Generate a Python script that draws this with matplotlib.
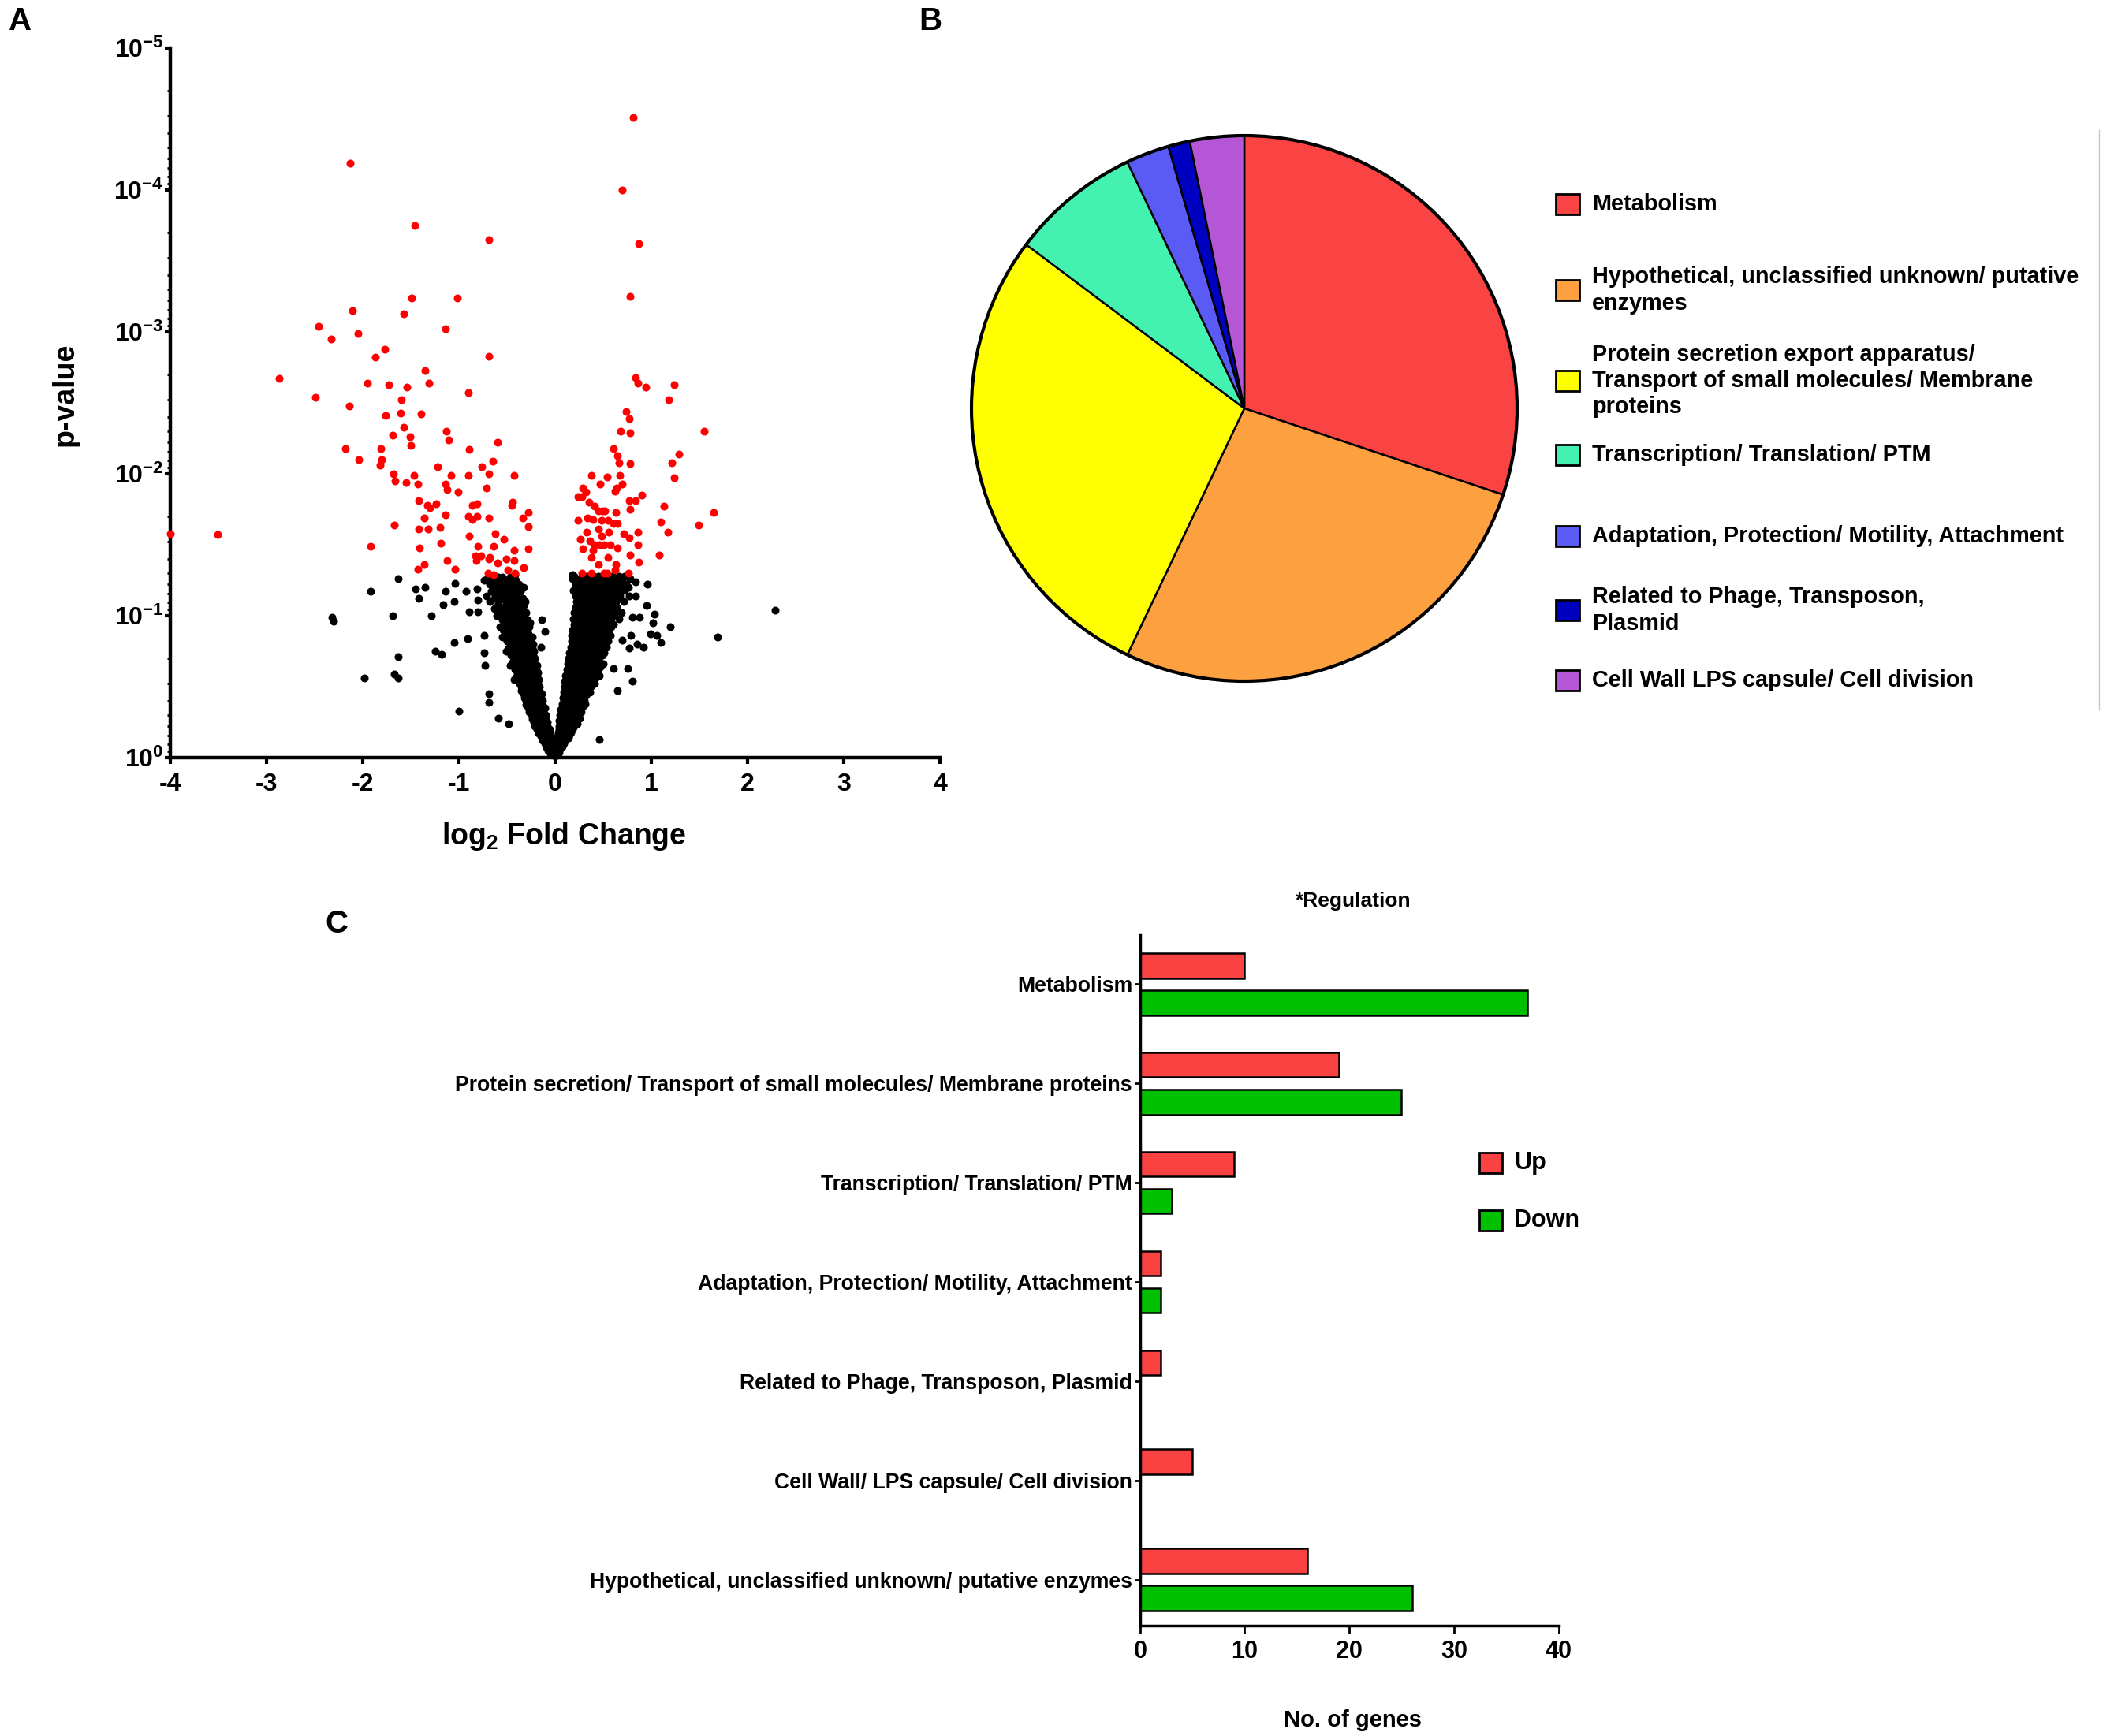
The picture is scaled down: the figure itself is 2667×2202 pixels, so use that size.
import numpy as np
import matplotlib
matplotlib.use('Agg')
import matplotlib.pyplot as plt
from matplotlib.patches import Rectangle, Circle
from matplotlib.lines import Line2D
from matplotlib.ticker import LogLocator, NullFormatter

plt.rcParams['font.family'] = ['Liberation Sans', 'DejaVu Sans']
plt.rcParams['font.weight'] = 'bold'
plt.rcParams['axes.labelweight'] = 'bold'
plt.rcParams['axes.unicode_minus'] = False
plt.rcParams['mathtext.fontset'] = 'custom'
plt.rcParams['mathtext.rm'] = 'Liberation Sans:bold'
plt.rcParams['mathtext.it'] = 'Liberation Sans:bold'
plt.rcParams['mathtext.bf'] = 'Liberation Sans:bold'

# ---------------- Panel A data (volcano) ----------------
red_log2fc = [
    -4.00, -3.51, -2.13, -1.46, -0.69, -1.02, -1.49, -2.11, -1.57, -2.46,
    -1.14, -2.05, -2.33, -1.77, -1.87, -0.69, -2.87, -1.35, -1.95, -1.73,
    -1.31, -1.54, -0.90, -2.49, -1.60, -2.14, -1.61, -1.76, -1.39, -1.57,
    -1.13, -1.69, -1.51, -1.11, -0.60, -1.50, -2.18, -1.81, -0.89, -2.04,
    -1.80, -0.65, -1.82, -1.22, -0.76, -1.68, -1.47, -1.08, -0.90, -0.69,
    -0.43, -1.66, -1.55, -1.43, -1.14, -1.12, -1.01, -0.71, -1.42, -1.33,
    -1.24, -1.30, -0.86, -0.81, -0.44, -0.45, -1.36, -1.14, -0.90, -0.86,
    -0.81, -0.69, -0.34, -0.28, -1.67, -1.42, -1.32, -1.20, -0.28, -0.62,
    -0.89, -0.53, -1.92, -1.41, -1.19, -0.80, -0.64, -0.43, -0.28, -0.83,
    -0.77, -0.82, -0.69, -0.68, -0.51, -0.43, -1.12, -0.60, -1.36, -1.43,
    -1.04, -0.49, -0.33, -0.70, -0.64, -0.42,
    0.81, 0.70, 0.87, 0.78, 0.84, 0.86, 0.94, 1.24, 1.18, 0.74,
    0.77, 0.68, 0.78, 1.55, 0.61, 1.29, 0.65, 0.66, 0.78, 1.21,
    0.38, 0.54, 0.67, 1.24, 0.47, 0.29, 0.70, 0.32, 0.62, 0.64,
    0.24, 0.28, 0.90, 0.77, 0.84, 0.35, 0.41, 1.13, 0.78, 0.45,
    0.49, 0.52, 1.65, 0.63, 0.34, 0.39, 0.24, 0.55, 0.48, 0.61,
    0.65, 1.10, 1.49, 0.45, 0.33, 0.56, 0.71, 0.86, 1.17, 0.26,
    0.36, 0.48, 0.77, 0.41, 0.46, 0.51, 0.57, 0.65, 0.86, 0.29,
    0.39, 0.78, 1.08, 0.38, 0.55, 0.87, 0.45, 0.63, 0.28, 0.38,
    0.51, 0.54, 0.76, 0.62,
]
red_log10p = [
    -1.58, -1.57, -4.19, -3.75, -3.65, -3.24, -3.24, -3.15, -3.13, -3.04,
    -3.02, -2.99, -2.95, -2.88, -2.82, -2.83, -2.67, -2.73, -2.64, -2.63,
    -2.64, -2.61, -2.57, -2.54, -2.52, -2.48, -2.43, -2.41, -2.42, -2.33,
    -2.30, -2.27, -2.26, -2.24, -2.22, -2.20, -2.18, -2.18, -2.17, -2.10,
    -2.10, -2.09, -2.06, -2.05, -2.05, -2.00, -1.99, -1.99, -1.99, -2.00,
    -1.99, -1.95, -1.94, -1.93, -1.93, -1.89, -1.87, -1.90, -1.81, -1.78,
    -1.79, -1.76, -1.78, -1.79, -1.80, -1.78, -1.69, -1.71, -1.70, -1.68,
    -1.70, -1.69, -1.69, -1.73, -1.64, -1.61, -1.61, -1.62, -1.63, -1.58,
    -1.56, -1.54, -1.49, -1.48, -1.51, -1.49, -1.49, -1.46, -1.47, -1.42,
    -1.42, -1.39, -1.40, -1.41, -1.40, -1.39, -1.39, -1.37, -1.36, -1.33,
    -1.33, -1.32, -1.34, -1.30, -1.29, -1.30,
    -4.51, -4.00, -3.62, -3.25, -2.68, -2.64, -2.61, -2.63, -2.52, -2.44,
    -2.39, -2.30, -2.29, -2.30, -2.18, -2.14, -2.13, -2.08, -2.07, -2.08,
    -1.99, -1.98, -1.99, -1.97, -1.93, -1.90, -1.93, -1.87, -1.88, -1.90,
    -1.84, -1.84, -1.85, -1.81, -1.81, -1.80, -1.77, -1.77, -1.75, -1.74,
    -1.74, -1.74, -1.73, -1.73, -1.69, -1.68, -1.67, -1.67, -1.67, -1.65,
    -1.65, -1.66, -1.64, -1.61, -1.59, -1.59, -1.58, -1.59, -1.59, -1.54,
    -1.53, -1.56, -1.55, -1.50, -1.50, -1.50, -1.50, -1.48, -1.50, -1.47,
    -1.46, -1.43, -1.43, -1.41, -1.41, -1.38, -1.36, -1.36, -1.30, -1.30,
    -1.30, -1.30, -1.30, -1.32,
]

black_out_log2fc = [
    -1.63, -1.92, -2.32, -2.30, -1.69, -1.63, -1.67, -1.63, -1.98, -1.45,
    -1.42, -1.35, -1.29, -1.25, -1.18, -1.14, -1.16, -1.04, -1.05, -1.05,
    -0.93, -0.89, -0.91, -1.00, -0.81, -0.80, -0.80, -0.74, -0.74, -0.73,
    -0.69, -0.69, -0.59, -0.48, -0.71, -0.64, -0.62, -0.59, -0.57, -0.51,
    -0.42, -0.33, -0.14, -0.11, -0.15,
    2.29, 1.69, 1.20, 1.10, 1.06, 0.99, 1.03, 1.02, 0.95, 0.92,
    0.85, 0.77, 0.88, 0.80, 0.79, 0.70, 0.96, 0.84, 0.84, 0.75,
    0.80, 0.65, 0.61, 0.46, 0.18, 0.19,
]
black_out_log10p = [
    -1.26, -1.17, -0.99, -0.96, -1.00, -0.71, -0.59, -0.56, -0.56, -1.19,
    -1.12, -1.20, -1.00, -0.75, -0.73, -1.17, -1.08, -1.23, -1.10, -0.81,
    -1.17, -1.03, -0.84, -0.33, -1.19, -1.11, -1.03, -0.86, -0.74, -0.65,
    -0.45, -0.39, -0.28, -0.24, -1.14, -1.24, -1.15, -1.27, -1.19, -1.19,
    -1.29, -1.20, -0.97, -0.89, -0.78,
    -1.04, -0.85, -0.92, -0.81, -0.86, -0.87, -1.01, -0.95, -1.07, -0.78,
    -0.80, -0.77, -0.99, -0.99, -0.86, -0.83, -1.22, -1.14, -1.24, -0.63,
    -0.54, -0.47, -0.63, -0.13, -1.29, -1.18,
]

# dense non-significant cloud, read row by row (log10 p level -> log2FC values)
black_left_levels = [-1.27, -1.25, -1.22, -1.20, -1.17, -1.15, -1.12, -1.10, -1.07, -1.05,
                     -1.02, -1.00, -0.97, -0.95, -0.92, -0.90, -0.87, -0.85, -0.82, -0.80,
                     -0.77, -0.75, -0.72, -0.70, -0.67, -0.65, -0.62, -0.60, -0.57, -0.55,
                     -0.52, -0.50, -0.47, -0.45, -0.42, -0.40, -0.37, -0.35, -0.32, -0.30,
                     -0.27, -0.25, -0.22, -0.20, -0.17, -0.15, -0.12, -0.10, -0.07, -0.05,
                     -0.03]
black_left_rows = [
    [-0.70, -0.62, -0.55, -0.47],
    [-0.74, -0.58, -0.50, -0.41],
    [-0.68, -0.60, -0.52, -0.44, -0.38],
    [-0.65, -0.56, -0.48, -0.41, -0.35],
    [-0.66, -0.58, -0.50, -0.45, -0.36],
    [-0.61, -0.54, -0.47, -0.40],
    [-0.63, -0.55, -0.48, -0.40, -0.34],
    [-0.68, -0.59, -0.51, -0.44, -0.37, -0.31],
    [-0.60, -0.52, -0.46, -0.42, -0.33],
    [-0.63, -0.55, -0.49, -0.39, -0.35],
    [-0.58, -0.50, -0.44, -0.37, -0.30],
    [-0.61, -0.53, -0.47, -0.40, -0.33],
    [-0.55, -0.48, -0.42, -0.36, -0.29],
    [-0.52, -0.45, -0.39, -0.32, -0.26],
    [-0.57, -0.47, -0.40, -0.34, -0.27],
    [-0.54, -0.50, -0.43, -0.37, -0.30],
    [-0.52, -0.45, -0.39, -0.33, -0.28],
    [-0.55, -0.48, -0.42, -0.36, -0.30, -0.24],
    [-0.50, -0.43, -0.38, -0.32, -0.26],
    [-0.47, -0.41, -0.35, -0.29, -0.23],
    [-0.48, -0.41, -0.36, -0.30, -0.24],
    [-0.51, -0.44, -0.38, -0.33, -0.27, -0.22],
    [-0.46, -0.40, -0.34, -0.29, -0.23],
    [-0.43, -0.37, -0.31, -0.26, -0.21],
    [-0.44, -0.38, -0.33, -0.27, -0.22],
    [-0.47, -0.41, -0.35, -0.30, -0.24, -0.19],
    [-0.42, -0.36, -0.31, -0.26, -0.20],
    [-0.39, -0.33, -0.28, -0.23, -0.18],
    [-0.40, -0.34, -0.29, -0.24, -0.19],
    [-0.43, -0.37, -0.31, -0.26, -0.21, -0.17],
    [-0.37, -0.32, -0.27, -0.22, -0.18],
    [-0.35, -0.29, -0.25, -0.20, -0.16],
    [-0.35, -0.30, -0.25, -0.21, -0.16],
    [-0.33, -0.27, -0.22, -0.18, -0.14],
    [-0.32, -0.28, -0.23, -0.19, -0.15],
    [-0.30, -0.25, -0.21, -0.17, -0.13],
    [-0.30, -0.26, -0.21, -0.17, -0.13],
    [-0.28, -0.23, -0.19, -0.15, -0.11],
    [-0.27, -0.23, -0.19, -0.15, -0.12],
    [-0.25, -0.21, -0.17, -0.13, -0.10],
    [-0.24, -0.20, -0.17, -0.13, -0.10],
    [-0.22, -0.18, -0.15, -0.11, -0.08],
    [-0.21, -0.17, -0.14, -0.11, -0.08],
    [-0.19, -0.15, -0.12, -0.09, -0.06],
    [-0.17, -0.14, -0.11, -0.08, -0.06],
    [-0.15, -0.12, -0.09, -0.06, -0.04],
    [-0.13, -0.10, -0.08, -0.06, -0.04],
    [-0.11, -0.08, -0.06, -0.03],
    [-0.09, -0.07, -0.05, -0.03],
    [-0.07, -0.04, -0.02],
    [-0.05, -0.03, -0.01],
]
black_right_levels = [-1.28, -1.26, -1.24, -1.22, -1.20, -1.18, -1.16, -1.14, -1.12, -1.10,
                      -1.08, -1.06, -1.04, -1.02, -1.00, -0.98, -0.96, -0.94, -0.92, -0.90,
                      -0.88, -0.86, -0.84, -0.82, -0.80, -0.78, -0.76, -0.74, -0.72, -0.70,
                      -0.68, -0.66, -0.64, -0.62, -0.60, -0.58, -0.56, -0.54, -0.52, -0.50,
                      -0.48, -0.46, -0.44, -0.42, -0.40, -0.38, -0.36, -0.34, -0.32, -0.30,
                      -0.28, -0.26, -0.24, -0.22, -0.20, -0.18, -0.16, -0.14, -0.12, -0.10,
                      -0.08, -0.06, -0.04, -0.03, -0.01]
black_right_rows = [
    [0.20, 0.28, 0.34, 0.40, 0.45, 0.50, 0.55, 0.60, 0.66, 0.72],
    [0.18, 0.25, 0.31, 0.37, 0.43, 0.48, 0.53, 0.57, 0.63, 0.69, 0.78],
    [0.22, 0.30, 0.36, 0.42, 0.47, 0.52, 0.58, 0.64, 0.70],
    [0.21, 0.27, 0.33, 0.39, 0.44, 0.50, 0.56, 0.61, 0.67, 0.74],
    [0.25, 0.32, 0.38, 0.43, 0.48, 0.54, 0.60, 0.68, 0.76],
    [0.22, 0.29, 0.35, 0.41, 0.46, 0.51, 0.57, 0.64, 0.72],
    [0.27, 0.33, 0.39, 0.44, 0.49, 0.55, 0.62],
    [0.21, 0.28, 0.34, 0.40, 0.46, 0.52, 0.59, 0.67, 0.77],
    [0.24, 0.30, 0.36, 0.41, 0.46, 0.52, 0.58, 0.66],
    [0.22, 0.27, 0.33, 0.39, 0.44, 0.49, 0.55, 0.63, 0.71],
    [0.26, 0.32, 0.37, 0.42, 0.47, 0.53, 0.61],
    [0.21, 0.29, 0.35, 0.40, 0.45, 0.50, 0.56, 0.64],
    [0.23, 0.29, 0.34, 0.39, 0.44, 0.50, 0.57],
    [0.20, 0.27, 0.32, 0.37, 0.42, 0.48, 0.54, 0.62, 0.69],
    [0.25, 0.30, 0.35, 0.40, 0.45, 0.51, 0.60],
    [0.19, 0.26, 0.31, 0.36, 0.41, 0.47, 0.53, 0.58, 0.66],
    [0.22, 0.28, 0.33, 0.38, 0.43, 0.48, 0.55],
    [0.20, 0.25, 0.31, 0.36, 0.41, 0.46, 0.52, 0.61],
    [0.24, 0.29, 0.34, 0.39, 0.44, 0.50, 0.58],
    [0.18, 0.24, 0.30, 0.35, 0.40, 0.46, 0.51, 0.56],
    [0.21, 0.27, 0.32, 0.37, 0.42, 0.47, 0.53],
    [0.17, 0.23, 0.29, 0.34, 0.39, 0.44, 0.50, 0.57],
    [0.20, 0.26, 0.31, 0.36, 0.41, 0.46, 0.52],
    [0.17, 0.22, 0.28, 0.33, 0.38, 0.43, 0.49, 0.55],
    [0.19, 0.24, 0.29, 0.34, 0.39, 0.44, 0.50],
    [0.16, 0.21, 0.26, 0.31, 0.36, 0.41, 0.46, 0.53],
    [0.18, 0.23, 0.28, 0.33, 0.38, 0.43, 0.48],
    [0.15, 0.20, 0.25, 0.30, 0.35, 0.40, 0.45, 0.51],
    [0.17, 0.22, 0.27, 0.32, 0.37, 0.42, 0.49],
    [0.14, 0.19, 0.24, 0.29, 0.34, 0.39, 0.44],
    [0.16, 0.21, 0.26, 0.31, 0.36, 0.41, 0.46],
    [0.13, 0.18, 0.23, 0.28, 0.33, 0.38, 0.43, 0.50],
    [0.15, 0.20, 0.25, 0.30, 0.35, 0.40, 0.47],
    [0.12, 0.17, 0.22, 0.27, 0.32, 0.37, 0.42],
    [0.14, 0.19, 0.24, 0.29, 0.33, 0.38, 0.44],
    [0.11, 0.16, 0.21, 0.26, 0.31, 0.35, 0.40, 0.46],
    [0.13, 0.18, 0.23, 0.27, 0.32, 0.37, 0.42],
    [0.10, 0.15, 0.20, 0.24, 0.29, 0.33, 0.38],
    [0.12, 0.17, 0.21, 0.26, 0.30, 0.35, 0.41],
    [0.10, 0.14, 0.19, 0.23, 0.27, 0.32, 0.37],
    [0.11, 0.15, 0.20, 0.24, 0.29, 0.34],
    [0.09, 0.13, 0.17, 0.22, 0.26, 0.31, 0.36],
    [0.10, 0.14, 0.19, 0.23, 0.27, 0.32],
    [0.08, 0.12, 0.16, 0.21, 0.25, 0.29],
    [0.09, 0.13, 0.17, 0.21, 0.26, 0.30],
    [0.07, 0.11, 0.15, 0.19, 0.23, 0.27, 0.31],
    [0.08, 0.12, 0.16, 0.20, 0.24, 0.29],
    [0.06, 0.10, 0.14, 0.18, 0.22, 0.25],
    [0.07, 0.11, 0.15, 0.19, 0.23, 0.27],
    [0.05, 0.09, 0.13, 0.16, 0.20, 0.24],
    [0.06, 0.10, 0.14, 0.17, 0.21, 0.25],
    [0.04, 0.08, 0.11, 0.15, 0.18, 0.22],
    [0.05, 0.09, 0.12, 0.16, 0.19, 0.23],
    [0.04, 0.07, 0.10, 0.13, 0.17, 0.20],
    [0.04, 0.08, 0.11, 0.14, 0.18],
    [0.03, 0.06, 0.09, 0.12, 0.16],
    [0.03, 0.06, 0.09, 0.12, 0.15],
    [0.02, 0.05, 0.08, 0.11, 0.14],
    [0.02, 0.05, 0.08, 0.11],
    [0.01, 0.04, 0.06, 0.09],
    [0.01, 0.04, 0.07],
    [0.01, 0.03, 0.05],
    [0.00, 0.02, 0.04],
    [-0.01, 0.01, 0.03],
    [0.00],
]

volcano_xticks = [-4, -3, -2, -1, 0, 1, 2, 3, 4]
volcano_ydecades = [0, -1, -2, -3, -4, -5]

# ---------------- Panel B data (pie) ----------------
pie_labels = [
    "Metabolism",
    "Hypothetical, unclassified unknown/ putative\nenzymes",
    "Protein secretion export apparatus/\nTransport of small molecules/ Membrane\nproteins",
    "Transcription/ Translation/ PTM",
    "Adaptation, Protection/ Motility, Attachment",
    "Related to Phage, Transposon,\nPlasmid",
    "Cell Wall LPS capsule/ Cell division",
]
pie_values = [47, 42, 44, 12, 4, 2, 5]
pie_colors = ['#FA4343', '#FCA040', '#FFFF00', '#43F2B0', '#5A5AF5', '#0000C0', '#B456D6']

# ---------------- Panel C data (bars) ----------------
bar_categories = [
    "Metabolism",
    "Protein secretion/ Transport of small molecules/ Membrane proteins",
    "Transcription/ Translation/ PTM",
    "Adaptation, Protection/ Motility, Attachment",
    "Related to Phage, Transposon, Plasmid",
    "Cell Wall/ LPS capsule/ Cell division",
    "Hypothetical, unclassified unknown/ putative enzymes",
]
up_counts = [10, 19, 9, 2, 2, 5, 16]
down_counts = [37, 25, 3, 2, 0, 0, 26]
bar_xticks = [0, 10, 20, 30, 40]
up_color = '#FA4242'
down_color = '#00C000'

# ---------------- Figure ----------------
W, H = 2667, 2202
fig = plt.figure(figsize=(W / 100, H / 100), dpi=100)


def fx(x):
    return x / W


def fy(y):
    return 1 - y / H


# ===== Panel A =====
ax1 = fig.add_axes([fx(216), fy(961), 976 / W, 900 / H])
bx = [x for row in black_left_rows for x in row] + \
     [x for row in black_right_rows for x in row] + black_out_log2fc
by = [lv for lv, row in zip(black_left_levels, black_left_rows) for _ in row] + \
     [lv for lv, row in zip(black_right_levels, black_right_rows) for _ in row] + black_out_log10p
ax1.scatter(bx, 10.0 ** np.array(by), s=52, color='black', linewidths=0, zorder=3, clip_on=False)
ax1.scatter(red_log2fc, 10.0 ** np.array(red_log10p), s=52, color='#FF0000',
            linewidths=0, zorder=3, clip_on=False)
ax1.set_yscale('log')
ax1.set_ylim(1, 1e-5)
ax1.set_xlim(-4, 4)
ax1.set_xticks(volcano_xticks)
ax1.set_yticks([10.0 ** d for d in volcano_ydecades])
ax1.set_yticklabels([r'$\mathdefault{10^{%d}}$' % d for d in volcano_ydecades])
ax1.yaxis.set_minor_locator(LogLocator(base=10, subs=np.arange(2, 10), numticks=20))
ax1.yaxis.set_minor_formatter(NullFormatter())
for s in ['top', 'right']:
    ax1.spines[s].set_visible(False)
for s in ['left', 'bottom']:
    ax1.spines[s].set_linewidth(3.2)
ax1.tick_params(axis='y', which='major', length=5, width=3, pad=1, labelsize=23)
ax1.tick_params(axis='y', which='minor', length=3, width=2)
ax1.tick_params(axis='x', which='major', length=6, width=3, pad=8, labelsize=23)
ax1.set_xlabel(r'log$_{\mathdefault{2}}$ Fold Change', fontsize=27)
ax1.xaxis.set_label_coords(0.512, -0.111)
ax1.xaxis.label.set_va('center')
ax1.set_ylabel('p-value', fontsize=27)
ax1.yaxis.set_label_coords(-0.137, 0.512)
ax1.yaxis.label.set_va('center')

# ===== Panel B =====
pr = 346 * 1.03
ax2 = fig.add_axes([fx(1578 - pr), fy(518 + pr), 2 * pr / W, 2 * pr / H])
ax2.pie(pie_values, colors=pie_colors, startangle=90, counterclock=False,
        wedgeprops=dict(edgecolor='black', linewidth=1.8))
ax2.add_patch(Circle((0, 0), 1, fill=False, edgecolor='black', linewidth=3))
ax2.set_xlim(-1.03, 1.03)
ax2.set_ylim(-1.03, 1.03)
ax2.set_aspect('equal')
ax2.axis('off')

pie_leg_y = [259, 368, 483, 577, 680, 774, 863]
for lab, col, yy in zip(pie_labels, pie_colors, pie_leg_y):
    fig.add_artist(Rectangle((fx(1973), fy(yy + 13)), 30 / W, 26 / H, transform=fig.transFigure,
                             facecolor=col, edgecolor='black', linewidth=2))
    fig.text(fx(2019), fy(yy), lab, fontsize=20.8, fontweight='bold', ha='left', va='center',
             linespacing=1.25)

# faint frame line at right edge
fig.add_artist(Line2D([fx(2662), fx(2662)], [fy(165), fy(900)], transform=fig.transFigure,
                      color='#C8C8C8', linewidth=1))

# ===== Panel C =====
ax3 = fig.add_axes([fx(1445.8), fy(2061.5), 530.7 / W, 876 / H])
ypos = np.arange(len(bar_categories))
ax3.barh(ypos - 0.187, up_counts, height=0.25, color=up_color, edgecolor='black', linewidth=1.8)
ax3.barh(ypos + 0.187, down_counts, height=0.25, color=down_color, edgecolor='black', linewidth=1.8)
ax3.set_ylim(6.46, -0.5)
ax3.set_xlim(0, 40)
ax3.set_yticks(ypos)
ax3.set_yticklabels(bar_categories, fontsize=19.2)
ax3.set_xticks(bar_xticks)
for s in ['top', 'right']:
    ax3.spines[s].set_visible(False)
for s in ['left', 'bottom']:
    ax3.spines[s].set_linewidth(2.5)
ax3.tick_params(axis='y', length=5, width=2, pad=2)
ax3.tick_params(axis='x', length=7, width=2, pad=6, labelsize=22)
ax3.set_xlabel('No. of genes', fontsize=21)
ax3.xaxis.set_label_coords(0.509, -0.1376)
ax3.xaxis.label.set_va('center')
ax3.text(0.509, 1.0485, '*Regulation', transform=ax3.transAxes, fontsize=19,
         fontweight='bold', ha='center', va='center')

for lab, col, yy in [('Up', up_color, 1475), ('Down', down_color, 1548)]:
    fig.add_artist(Rectangle((fx(1876), fy(yy + 13)), 29 / W, 26 / H, transform=fig.transFigure,
                             facecolor=col, edgecolor='black', linewidth=2))
    fig.text(fx(1920), fy(yy), lab, fontsize=22, fontweight='bold', ha='left', va='center')

# panel letters
fig.text(fx(26), fy(27), 'A', fontsize=29, fontweight='bold', ha='center', va='center')
fig.text(fx(1180), fy(27), 'B', fontsize=29, fontweight='bold', ha='center', va='center')
fig.text(fx(427), fy(1172), 'C', fontsize=29, fontweight='bold', ha='center', va='center')

fig.savefig('out.png', dpi=100, facecolor='white')
